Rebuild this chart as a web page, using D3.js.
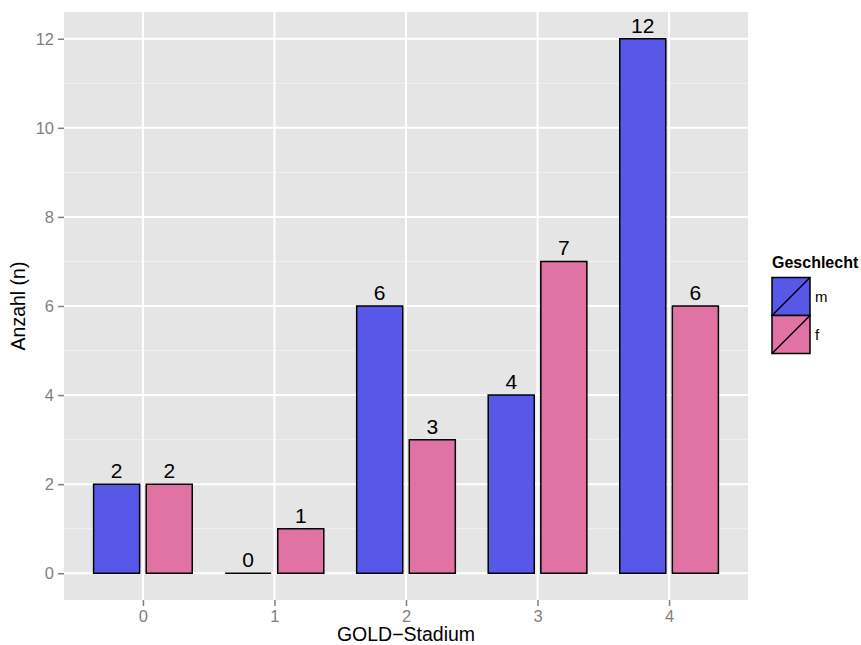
<!DOCTYPE html>
<html>
<head>
<meta charset="utf-8">
<script src="https://cdn.jsdelivr.net/npm/d3@7"></script>
<style>
  body { margin: 0; background: #fff; }
  svg { display: block; font-family: "Liberation Sans", Arial, Helvetica, sans-serif; }
</style>
</head>
<body>
<svg id="chart" width="861" height="645"></svg>
<script>
// GOLD stage counts by sex
const stages = ["0", "1", "2", "3", "4"];
const sexes = ["m", "f"];
const countsM = [2, 0, 6, 4, 12];
const countsF = [2, 1, 3, 7, 6];
const yTicks = [0, 2, 4, 6, 8, 10, 12];
const yMinor = [1, 3, 5, 7, 9, 11];
const sexColors = ["#5858e8", "#e072a4"];

const svg = d3.select("#chart");
const panel = { left: 64, top: 12, right: 748, bottom: 600 };

// discrete x: positions 1..5 with 0.6 expansion on either side
const x = d3.scaleLinear().domain([0.4, 5.6]).range([panel.left, panel.right]);
const y = d3.scaleLinear().domain([-0.6, 12.6]).range([panel.bottom, panel.top]);
const color = d3.scaleOrdinal().domain(sexes).range(sexColors);

const rows = [];
stages.forEach((s, i) => {
  rows.push({ stage: s, idx: i + 1, sex: "m", n: countsM[i] });
  rows.push({ stage: s, idx: i + 1, sex: "f", n: countsF[i] });
});
const dodge = { m: -0.2, f: 0.2 };
const barW = 0.35;

// panel background
svg.append("rect")
  .attr("x", panel.left).attr("y", panel.top)
  .attr("width", panel.right - panel.left).attr("height", panel.bottom - panel.top)
  .attr("fill", "#e5e5e5");

const grid = svg.append("g");
grid.selectAll(".minor").data(yMinor).join("line")
  .attr("x1", panel.left).attr("x2", panel.right)
  .attr("y1", d => y(d)).attr("y2", d => y(d))
  .attr("stroke", "#f2f2f2").attr("stroke-width", 1);
grid.selectAll(".majorY").data(yTicks).join("line")
  .attr("x1", panel.left).attr("x2", panel.right)
  .attr("y1", d => y(d)).attr("y2", d => y(d))
  .attr("stroke", "#ffffff").attr("stroke-width", 2);
grid.selectAll(".majorX").data(stages).join("line")
  .attr("y1", panel.top).attr("y2", panel.bottom)
  .attr("x1", (d, i) => x(i + 1)).attr("x2", (d, i) => x(i + 1))
  .attr("stroke", "#ffffff").attr("stroke-width", 2);

// bars as closed paths so zero-height bars still show their outline
svg.append("g").selectAll("path").data(rows).join("path")
  .attr("d", d => {
    const x0 = x(d.idx + dodge[d.sex] - barW / 2);
    const x1 = x(d.idx + dodge[d.sex] + barW / 2);
    const y0 = y(0), y1 = y(d.n);
    return `M${x0},${y0}H${x1}V${y1}H${x0}Z`;
  })
  .attr("fill", d => color(d.sex))
  .attr("stroke", "#000").attr("stroke-width", 1.5);

// value labels
svg.append("g").selectAll("text").data(rows).join("text")
  .attr("x", d => x(d.idx + dodge[d.sex]))
  .attr("y", d => y(d.n) - 6)
  .attr("text-anchor", "middle")
  .attr("font-size", 21)
  .attr("fill", "#000")
  .text(d => d.n);

// y axis
const yAxis = d3.axisLeft(y).tickValues(yTicks).tickSize(6).tickPadding(4);
const gy = svg.append("g").attr("transform", `translate(${panel.left},0)`).call(yAxis);
gy.select(".domain").remove();
gy.selectAll(".tick line").attr("stroke", "#7f7f7f").attr("stroke-width", 1.5);
gy.selectAll(".tick text").attr("fill", "#7f7f7f").attr("font-size", 16.5)
  .attr("font-family", "Liberation Sans, Arial, sans-serif");

// x axis
const xAxis = d3.axisBottom(x).tickValues(stages.map((s, i) => i + 1))
  .tickFormat((d, i) => stages[i]).tickSize(6).tickPadding(4);
const gx = svg.append("g").attr("transform", `translate(0,${panel.bottom})`).call(xAxis);
gx.select(".domain").remove();
gx.selectAll(".tick line").attr("stroke", "#7f7f7f").attr("stroke-width", 1.5);
gx.selectAll(".tick text").attr("fill", "#7f7f7f").attr("font-size", 16.5)
  .attr("font-family", "Liberation Sans, Arial, sans-serif");

// axis titles
svg.append("text")
  .attr("x", (panel.left + panel.right) / 2).attr("y", 641)
  .attr("text-anchor", "middle").attr("font-size", 19.5).attr("fill", "#000")
  .text("GOLD\u2212Stadium");
svg.append("text")
  .attr("transform", `translate(25,${(panel.top + panel.bottom) / 2}) rotate(-90)`)
  .attr("text-anchor", "middle").attr("font-size", 19.5).attr("fill", "#000")
  .text("Anzahl (n)");

// legend
const legend = svg.append("g").attr("transform", "translate(772,0)");
legend.append("text")
  .attr("x", 0).attr("y", 268)
  .attr("font-size", 16).attr("font-weight", "bold").attr("fill", "#000")
  .text("Geschlecht");
const keySize = 38;
const keys = legend.selectAll("g.key").data(sexes).join("g")
  .attr("class", "key")
  .attr("transform", (d, i) => `translate(0,${277.5 + i * keySize})`);
keys.append("rect")
  .attr("width", keySize).attr("height", keySize)
  .attr("fill", d => color(d))
  .attr("stroke", "#000").attr("stroke-width", 1.5);
keys.append("line")
  .attr("x1", 0).attr("y1", keySize).attr("x2", keySize).attr("y2", 0)
  .attr("stroke", "#000").attr("stroke-width", 1.5);
keys.append("text")
  .attr("x", keySize + 5).attr("y", keySize / 2 + 5)
  .attr("font-size", 15).attr("fill", "#000")
  .text(d => d);
</script>
</body>
</html>
